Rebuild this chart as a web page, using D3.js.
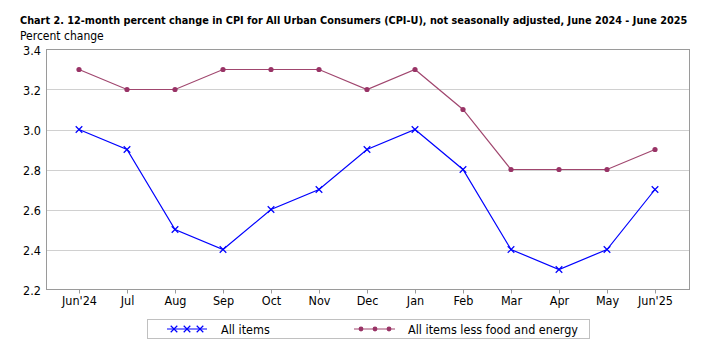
<!DOCTYPE html>
<html>
<head>
<meta charset="utf-8">
<script src="https://cdn.jsdelivr.net/npm/d3@7"></script>
<style>
  body { margin: 0; background: #fff; }
  svg text { font-family: "DejaVu Sans Condensed", "DejaVu Sans", sans-serif; font-stretch: condensed; fill: #000; }
</style>
</head>
<body>
<div id="chart"></div>
<script>
const months = ["Jun'24","Jul","Aug","Sep","Oct","Nov","Dec","Jan","Feb","Mar","Apr","May","Jun'25"]
const allItems = [3.0, 2.9, 2.5, 2.4, 2.6, 2.7, 2.9, 3.0, 2.8, 2.4, 2.3, 2.4, 2.7]
const coreItems = [3.3, 3.2, 3.2, 3.3, 3.3, 3.3, 3.2, 3.3, 3.1, 2.8, 2.8, 2.8, 2.9]
const yTicks = [2.2, 2.4, 2.6, 2.8, 3.0, 3.2, 3.4]

const width = 709
const height = 354
const plot = {left: 46, right: 689, top: 49.5, bottom: 289.5}
const fontFam = "\"DejaVu Sans Condensed\", \"DejaVu Sans\", sans-serif"

const svg = d3.select("#chart")
    .append("svg")
    .attr("width", width)
    .attr("height", height)

const x = d3.scalePoint()
    .domain(months)
    .range([79, 655])

const y = d3.scaleLinear()
    .domain([2.2, 3.4])
    .range([plot.bottom, plot.top])

// title
svg.append("text")
    .attr("x", 20)
    .attr("y", 24)
    .style("font-size", "10.8px")
    .style("font-weight", "bold")
    .text("Chart 2. 12-month percent change in CPI for All Urban Consumers (CPI-U), not seasonally adjusted, June 2024 - June 2025")

svg.append("text")
    .attr("x", 20)
    .attr("y", 40)
    .style("font-size", "12px")
    .text("Percent change")

// grid
svg.append("g")
    .selectAll("line")
    .data(yTicks.slice(1, -1))
    .join("line")
    .attr("x1", plot.left)
    .attr("x2", plot.right)
    .attr("y1", d => Math.round(y(d)) + 0.5)
    .attr("y2", d => Math.round(y(d)) + 0.5)
    .attr("stroke", "#d0d0d0")
    .attr("stroke-width", 1)

// frame
svg.append("rect")
    .attr("x", plot.left + 0.5)
    .attr("y", plot.top)
    .attr("width", plot.right - plot.left)
    .attr("height", plot.bottom - plot.top)
    .attr("fill", "none")
    .attr("stroke", "#9a9a9a")
    .attr("stroke-width", 1)

// y axis labels
svg.append("g")
    .selectAll("text")
    .data(yTicks)
    .join("text")
    .attr("x", 41)
    .attr("y", d => y(d) + 5)
    .attr("text-anchor", "end")
    .style("font-size", "12.5px")
    .text(d => d.toFixed(1))

// x axis
const xAxis = svg.append("g")
    .attr("transform", `translate(0,${plot.bottom})`)
    .call(d3.axisBottom(x).tickSize(4).tickSizeOuter(0).tickPadding(3))
xAxis.select(".domain").remove()
xAxis.selectAll(".tick line").attr("stroke", "#9a9a9a")
xAxis.selectAll(".tick text")
    .style("font-size", "12.5px")
    .style("font-family", fontFam)

const line = d3.line()
    .x((d, i) => x(months[i]))
    .y(d => y(d))

// core series
svg.append("path")
    .datum(coreItems)
    .attr("fill", "none")
    .attr("stroke", "#a0466e")
    .attr("stroke-width", 1.2)
    .attr("d", line)

svg.append("g")
    .selectAll("circle")
    .data(coreItems)
    .join("circle")
    .attr("cx", (d, i) => x(months[i]))
    .attr("cy", d => y(d))
    .attr("r", 2.6)
    .attr("fill", "#993366")

// all items series
svg.append("path")
    .datum(allItems)
    .attr("fill", "none")
    .attr("stroke", "#0000ff")
    .attr("stroke-width", 1.2)
    .attr("d", line)

const cross = d3.symbol().type(d3.symbolX).size(30)
svg.append("g")
    .selectAll("path")
    .data(allItems)
    .join("path")
    .attr("transform", (d, i) => `translate(${x(months[i])},${y(d)})`)
    .attr("d", cross)
    .attr("fill", "none")
    .attr("stroke", "#0000ff")
    .attr("stroke-width", 1.2)

// legend
const legend = svg.append("g")
legend.append("rect")
    .attr("x", 147.5)
    .attr("y", 319.5)
    .attr("width", 442)
    .attr("height", 19)
    .attr("fill", "#fff")
    .attr("stroke", "#c0c0c0")

legend.append("line")
    .attr("x1", 167).attr("x2", 207)
    .attr("y1", 329).attr("y2", 329)
    .attr("stroke", "#0000ff")
    .attr("stroke-width", 1.2)
legend.append("g")
    .selectAll("path")
    .data([174, 187, 200])
    .join("path")
    .attr("transform", d => `translate(${d},329)`)
    .attr("d", cross)
    .attr("fill", "none")
    .attr("stroke", "#0000ff")
    .attr("stroke-width", 1.2)
legend.append("text")
    .attr("x", 221)
    .attr("y", 333.5)
    .style("font-size", "12.5px")
    .text("All items")

legend.append("line")
    .attr("x1", 354).attr("x2", 395)
    .attr("y1", 329).attr("y2", 329)
    .attr("stroke", "#a0466e")
    .attr("stroke-width", 1.2)
legend.append("g")
    .selectAll("circle")
    .data([361, 375, 389])
    .join("circle")
    .attr("cx", d => d)
    .attr("cy", 329)
    .attr("r", 2.4)
    .attr("fill", "#993366")
legend.append("text")
    .attr("x", 408)
    .attr("y", 333.5)
    .style("font-size", "12.5px")
    .text("All items less food and energy")
</script>
</body>
</html>
